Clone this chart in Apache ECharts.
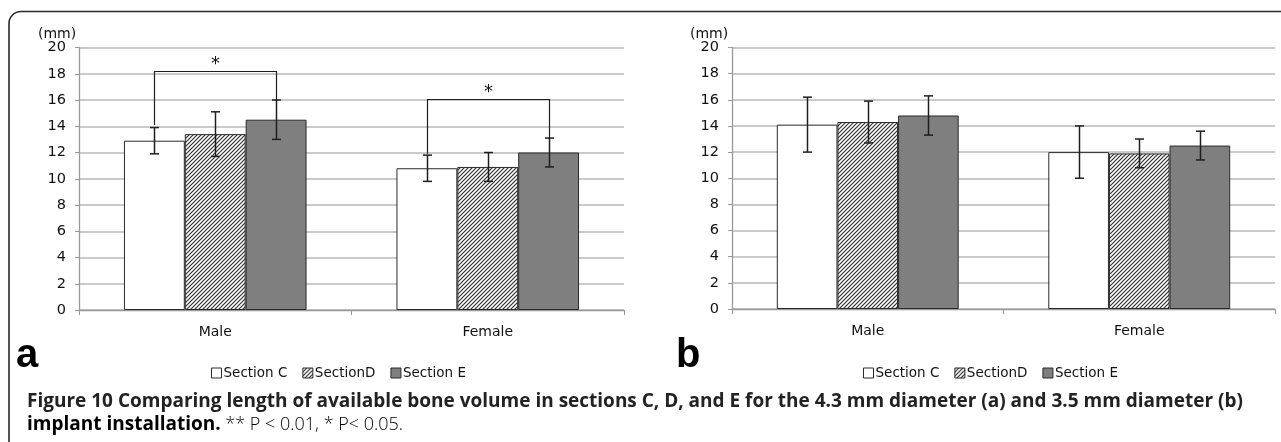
<!DOCTYPE html>
<html>
<head>
<meta charset="utf-8">
<script src="https://cdn.jsdelivr.net/npm/echarts@6/dist/echarts.min.js"></script>
<style>
html,body{margin:0;padding:0;background:#fff;}
#c{width:1281px;height:442px;}
</style>
</head>
<body>
<div id="c"></div>
<script>
// ---------- data ----------
const categories = ['Male', 'Female'];
const sectionNames = ['Section C', 'SectionD', 'Section E'];
const yTicks = { min: 0, max: 20, interval: 2 };

// panel a (4.3 mm)
const aMeans = { C: [12.9, 10.8], D: [13.4, 10.9], E: [14.5, 12.0] };
const aErrors = { C: [1.0, 1.0], D: [1.7, 1.1], E: [1.5, 1.1] };
// panel b (3.5 mm)
const bMeans = { C: [14.1, 12.0], D: [14.3, 11.9], E: [14.8, 12.5] };
const bErrors = { C: [2.1, 2.0], D: [1.6, 1.1], E: [1.5, 1.1] };

// significance brackets (panel a): category, from section, to section, left leg end, right leg end, top
const bracketCats = [0, 1];
const bracketFrom = [0, 0];
const bracketTo = [2, 2];
const bracketLeftEnd = [14.1, 11.9];
const bracketRightEnd = [16.0, 13.1];
const bracketTop = [18.2, 16.1];
const bracketLabel = ['*', '*'];

const captionBold1 = 'Figure 10 Comparing length of available bone volume in sections C, D, and E for the 4.3 mm diameter (a) and 3.5 mm diameter (b)';
const captionBold2 = 'implant installation.';
const captionLight2 = ' ** P < 0.01, * P< 0.05.';

// ---------- styles ----------
const GAP = 0.33;
function hatch() {
  const s = 4;
  const cv = document.createElement('canvas');
  cv.width = s; cv.height = s;
  const g = cv.getContext('2d');
  g.fillStyle = '#fff'; g.fillRect(0, 0, s, s);
  g.strokeStyle = '#333'; g.lineWidth = 1.2;
  g.beginPath();
  g.moveTo(0, s); g.lineTo(s, 0);
  g.moveTo(-1, 1); g.lineTo(1, -1);
  g.moveTo(s - 1, s + 1); g.lineTo(s + 1, s - 1);
  g.stroke();
  return cv;
}
const hatchCanvas = hatch();
const fills = [
  '#ffffff',
  { image: hatchCanvas, repeat: 'repeat' },
  '#7f7f7f'
];
const keys = ['C', 'D', 'E'];

function barSeries(means, gi) {
  return keys.map((k, i) => ({
    type: 'bar',
    name: sectionNames[i],
    xAxisIndex: gi, yAxisIndex: gi,
    data: means[k],
    barGap: '0%',
    barCategoryGap: (GAP * 100) + '%',
    itemStyle: { color: fills[i], borderColor: '#2a2a2a', borderWidth: 1 },
    emphasis: { disabled: true },
    z: 2
  }));
}
function errData(means, errs) {
  const out = [];
  categories.forEach((c, ci) => {
    keys.forEach((k, si) => out.push([ci, means[k][ci], errs[k][ci], si]));
  });
  return out;
}
function errSeries(means, errs, gi) {
  return {
    type: 'custom',
    xAxisIndex: gi, yAxisIndex: gi,
    data: errData(means, errs),
    z: 5,
    silent: true,
    renderItem: function (params, api) {
      const cat = api.value(0), m = api.value(1), e = api.value(2), s = api.value(3);
      const band = api.size([1, 0])[0];
      const bw = band * (1 - GAP) / 3;
      const x = Math.round(api.coord([cat, m])[0] + (s - 1) * bw) + 0.5;
      const yt = api.coord([cat, m + e])[1];
      const yb = api.coord([cat, m - e])[1];
      const st = { stroke: '#1e1e1e', lineWidth: 1.5 };
      const h = 4.5;
      return {
        type: 'group',
        children: [
          { type: 'line', shape: { x1: x, y1: yt, x2: x, y2: yb }, style: st },
          { type: 'line', shape: { x1: x - h, y1: yt, x2: x + h, y2: yt }, style: st },
          { type: 'line', shape: { x1: x - h, y1: yb, x2: x + h, y2: yb }, style: st }
        ]
      };
    }
  };
}
function bracketSeries(gi) {
  const data = bracketCats.map((c, i) => [c, bracketFrom[i], bracketTo[i], bracketLeftEnd[i], bracketRightEnd[i], bracketTop[i]]);
  return {
    type: 'custom',
    xAxisIndex: gi, yAxisIndex: gi,
    data: data,
    z: 6,
    silent: true,
    renderItem: function (params, api) {
      const cat = api.value(0), f = api.value(1), t = api.value(2);
      const band = api.size([1, 0])[0];
      const bw = band * (1 - GAP) / 3;
      const cx = api.coord([cat, 0])[0];
      const x1 = Math.round(cx + (f - 1) * bw) + 0.5;
      const x2 = Math.round(cx + (t - 1) * bw) + 0.5;
      const yl = api.coord([cat, api.value(3)])[1];
      const yr = api.coord([cat, api.value(4)])[1];
      const ytp = Math.round(api.coord([cat, api.value(5)])[1]) + 0.5;
      return {
        type: 'group',
        children: [
          { type: 'polyline', shape: { points: [[x1, yl], [x1, ytp], [x2, ytp], [x2, yr]] },
            style: { stroke: '#1e1e1e', lineWidth: 1.2, fill: null } },
          { type: 'text', style: { text: bracketLabel[params.dataIndex], x: (x1 + x2) / 2, y: ytp + 2,
            align: 'center', verticalAlign: 'bottom', font: '18px "DejaVu Sans"', fill: '#111' } }
        ]
      };
    }
  };
}

const axisFont = '"DejaVu Sans", Verdana, sans-serif';
function xAxis(gi) {
  return {
    type: 'category', gridIndex: gi, data: categories,
    axisLine: { lineStyle: { color: '#999', width: 1.3 } },
    axisTick: { show: true, length: 5, lineStyle: { color: '#999' } },
    axisLabel: { color: '#111', fontSize: 14, fontFamily: axisFont, margin: 15 }
  };
}
function yAxis(gi) {
  return {
    type: 'value', gridIndex: gi, min: yTicks.min, max: yTicks.max, interval: yTicks.interval,
    axisLine: { show: true, lineStyle: { color: '#999', width: 1.3 } },
    axisTick: { show: true, length: 4, lineStyle: { color: '#999' } },
    axisLabel: { color: '#111', fontSize: 14.5, fontFamily: axisFont, margin: 13 },
    splitLine: { lineStyle: { color: '#b8b8b8', width: 1.6 } }
  };
}
function legend(left) {
  return {
    left: left, top: 361,
    icon: 'rect', itemWidth: 10, itemHeight: 10, itemGap: 15,
    selectedMode: false,
    data: sectionNames,
    itemStyle: { borderColor: '#2a2a2a', borderWidth: 1 },
    textStyle: { fontSize: 13.5, fontFamily: axisFont, color: '#111', padding: [0, 0, 0, -3] }
  };
}

// caption font size fit to measured width
const capCv = document.createElement('canvas').getContext('2d');
capCv.font = 'bold 17px "Open Sans"';
const capW = capCv.measureText(captionBold1).width;
const capSize = Math.round(17 * 1218 / capW * 10) / 10;

const chart = echarts.init(document.getElementById('c'), null, { renderer: 'canvas' });
chart.setOption({
  animation: false,
  backgroundColor: '#fff',
  grid: [
    { left: 79, right: 657, top: 47.5, bottom: 132 },
    { left: 732, right: 6, top: 47.5, bottom: 133 }
  ],
  xAxis: [xAxis(0), xAxis(1)],
  yAxis: [yAxis(0), yAxis(1)],
  legend: [legend(206), legend(858)],
  series: [
    ...barSeries(aMeans, 0),
    ...barSeries(bMeans, 1),
    errSeries(aMeans, aErrors, 0),
    errSeries(bMeans, bErrors, 1),
    bracketSeries(0)
  ],
  graphic: [
    { type: 'rect', silent: true, x: 9, y: 11.5,
      shape: { x: 0, y: 0, width: 1400, height: 600, r: [12, 0, 0, 0] },
      style: { stroke: '#2a2a2a', lineWidth: 1.6, fill: null } },
    { type: 'text', x: 38, y: 27, style: { text: '(mm)', font: '14px ' + axisFont, fill: '#111' } },
    { type: 'text', x: 690, y: 27, style: { text: '(mm)', font: '14px ' + axisFont, fill: '#111' } },
    { type: 'text', x: 16, y: 336, style: { text: 'a', font: 'bold 40px "Liberation Sans", Arial, sans-serif', fill: '#000' } },
    { type: 'text', x: 676, y: 336, style: { text: 'b', font: 'bold 40px "Liberation Sans", Arial, sans-serif', fill: '#000' } },
    { type: 'text', x: 27, y: 392, style: { text: captionBold1, font: 'bold ' + capSize + 'px "Open Sans"', fill: '#222' } },
    { type: 'text', x: 27, y: 415, style: {
      text: '{b|' + captionBold2 + '}{l|' + captionLight2 + '}',
      rich: {
        b: { fontFamily: 'Open Sans', fontWeight: 'bold', fontSize: capSize, color: '#222' },
        l: { fontFamily: 'Open Sans', fontWeight: 300, fontSize: capSize - 1, color: '#555' }
      } } }
  ]
});
</script>
</body>
</html>
